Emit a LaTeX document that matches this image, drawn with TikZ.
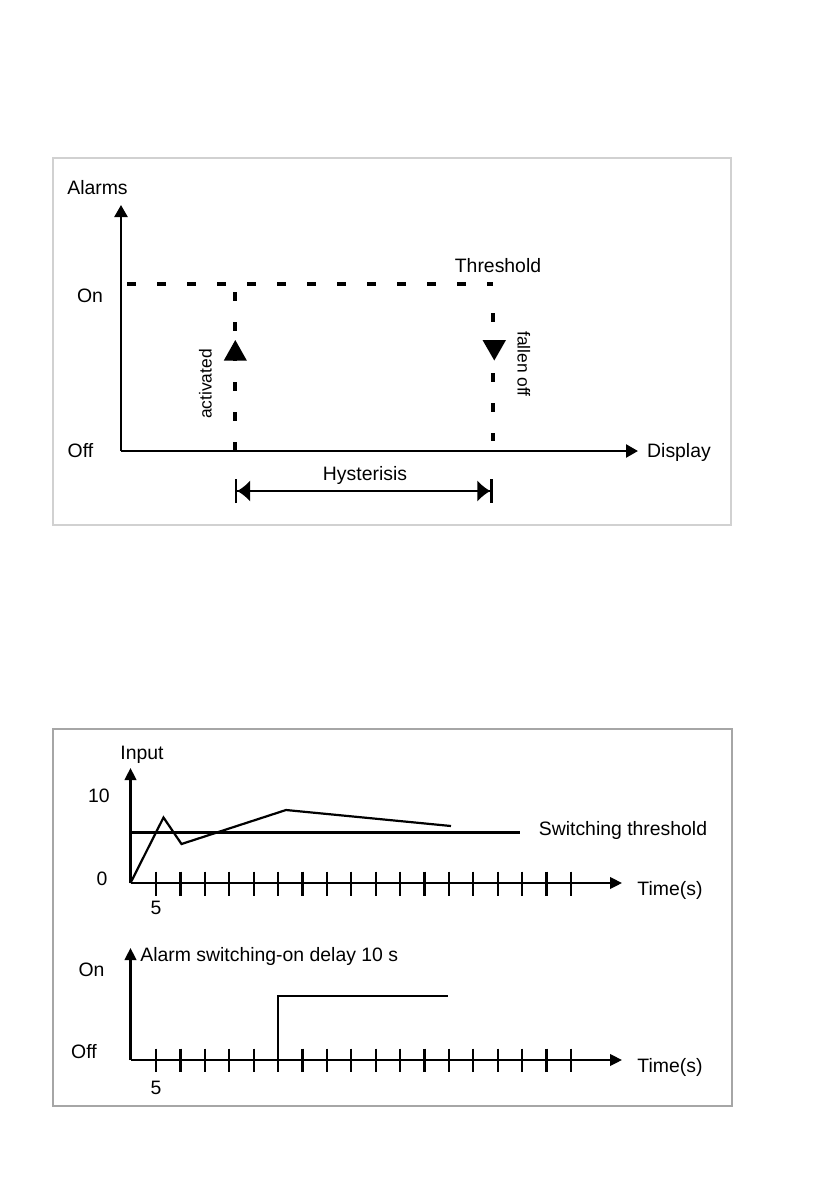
\documentclass[tikz,border=0pt]{standalone}
\usepackage{fontspec}
\setmainfont{Liberation Sans}
\usetikzlibrary{arrows.meta,positioning}

\tikzset{
  lbl/.style={font=\fontsize{9.7}{11}\selectfont, inner sep=0pt, anchor=base},
  sidelbl/.style={font=\fontsize{8.7}{10}\selectfont, inner sep=0pt, anchor=base},
  frame/.style={line width=0.7pt},
  axis/.style={line width=1.2pt, -{Triangle[length=6pt,width=6.5pt]}},
  dashline/.style={line width=1.8pt, dash pattern=on 4.5pt off 10.5pt},
  hyst/.style={line width=1.1pt, {Bar[width=12pt]Latex[length=6.5pt,width=11pt]}-{Latex[length=6.5pt,width=11pt]Bar[width=12pt]}},
  taxis/.style={line width=1.1pt, -{Triangle[length=6pt,width=5.8pt]}},
  curve/.style={line width=1.1pt, line join=miter},
}

\begin{document}
\begin{tikzpicture}[x=0.5pt,y=-0.5pt]
\useasboundingbox (0,0) rectangle (839,1191);

% alarm hysteresis
\draw[frame, draw=black!18] (53,158) rectangle (731,525);
\coordinate (O1) at (121,451);
\coordinate (ytop1) at (121,205);
\coordinate (xend1) at (638,451);
\draw[axis] (O1) -- (ytop1);
\draw[axis] (O1) -- (xend1);

\coordinate (thrL) at (127,284);
\coordinate (thrR) at (493,284);
\coordinate (actT) at (235,292);
\coordinate (actB) at (235,452);
\coordinate (fallT) at (493,313);
\coordinate (fallB) at (493,441);
\draw[dashline] (thrL) -- (thrR);
\draw[dashline] (actT) -- (actB);
\draw[dashline] (fallT) -- (fallB);
\fill (223.8,360.5) -- (246.8,360.5) -- (235.3,340) -- cycle;
\fill (482.5,340) -- (506,340) -- (494.3,360.5) -- cycle;

\coordinate (hysL) at (235,491);
\coordinate (hysR) at (492.5,491);
\draw[hyst] (hysL) -- (hysR);

\node[lbl] (alarms) at (97.5,194) {Alarms};
\node[lbl] (on1) at (90,302) {On};
\node[lbl] (off1) at (80.5,457) {Off};
\node[lbl] (display) at (679,457) {Display};
\node[lbl] (threshold) at (498,272) {Threshold};
\node[lbl] (hysterisis) at (365,480.5) {Hysterisis};
\node[sidelbl, rotate=90] (activated) at (211.5,384) {activated};
\node[sidelbl, rotate=-90] (fallen) at (517.5,364) {fallen off};

% switching-on delay
\draw[frame, draw=black!35] (53,729) rectangle (732,1106);
\coordinate (O2) at (130.5,883);
\draw[taxis] (O2) -- (130.5,768);
\draw[taxis] (O2) -- (622,883);
\foreach \k in {0,...,17}
  \draw[line width=1.1pt] (156+24.4*\k,871.5) -- (156+24.4*\k,895.5);
\draw[curve] (O2) -- (130.5,832.5) -- (520,832.5);
\draw[curve] (O2) -- (163.5,817.5) -- (181.5,844) -- (286,810) -- (451,826);

\node[lbl] (input) at (142,759) {Input};
\node[lbl] (ten) at (99,802) {10};
\node[lbl] (zero) at (102,885) {0};
\node[lbl] (five1) at (156,914) {5};
\node[lbl] (swthr) at (623,835.5) {Switching threshold};
\node[lbl] (time1) at (670,895) {Time(s)};

\coordinate (O3) at (130.5,1060);
\draw[taxis] (O3) -- (130.5,948);
\draw[taxis] (O3) -- (622,1060);
\foreach \k in {0,...,17}
  \draw[line width=1.1pt] (156+24.4*\k,1048.5) -- (156+24.4*\k,1072);
\draw[curve] (278,1060) -- (278,996) -- (448,996);

\node[lbl, anchor=base west] (delay) at (140,961) {Alarm switching-on delay 10 s};
\node[lbl] (on2) at (91.5,976.5) {On};
\node[lbl] (off2) at (84,1058) {Off};
\node[lbl] (five2) at (156,1094) {5};
\node[lbl] (time2) at (670,1072) {Time(s)};
\end{tikzpicture}
\end{document}
